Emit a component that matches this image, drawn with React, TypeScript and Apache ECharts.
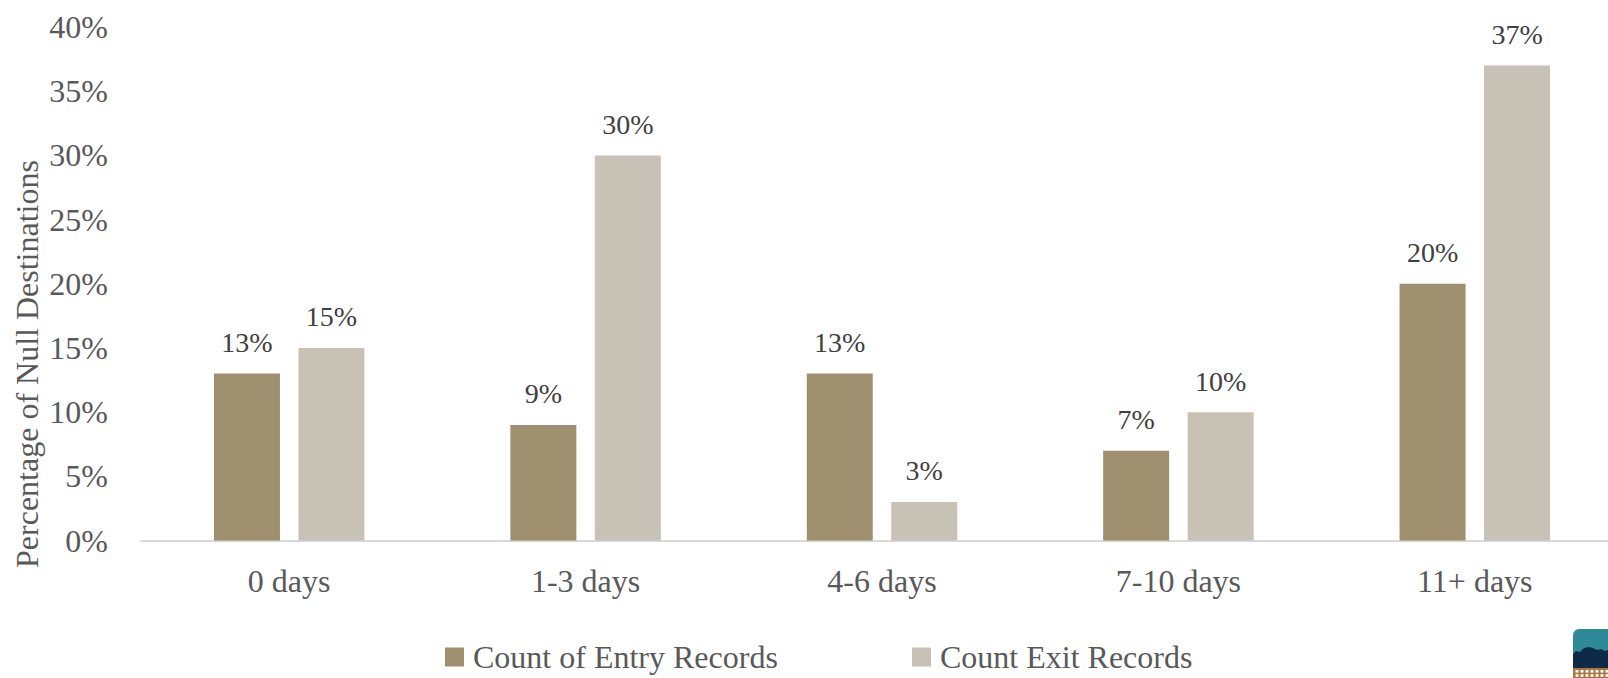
import React, { useEffect, useRef } from "react";
import * as echarts from "echarts";

const categories = ["0 days", "1-3 days", "4-6 days", "7-10 days", "11+ days"];
const entryRecords = [13, 9, 13, 7, 20];
const exitRecords = [15, 30, 3, 10, 37];
const seriesNames = ["Count of Entry Records", "Count Exit Records"];
const yAxisTitle = "Percentage of Null Destinations";

const FONT = "'Liberation Serif', 'Times New Roman', serif";
const ENTRY_COLOR = "#9E8F6F";
const EXIT_COLOR = "#C8C2B6";

function logoGraphics() {
  const els: any[] = [];
  els.push({
    type: "rect",
    shape: { x: 1573, y: 629, width: 40, height: 32, r: [6, 0, 0, 0] },
    style: { fill: "#2F8A98" },
    silent: true,
  });
  els.push({
    type: "polygon",
    shape: {
      points: [
        [1573, 654], [1576, 651], [1580, 652], [1584, 648], [1589, 647],
        [1593, 648], [1597, 650], [1601, 649], [1605, 651], [1608, 650],
        [1608, 668], [1573, 668],
      ],
    },
    style: { fill: "#0E2A48" },
    silent: true,
  });
  els.push({
    type: "rect",
    shape: { x: 1573, y: 668, width: 40, height: 12 },
    style: { fill: "#A8763F" },
    silent: true,
  });
  for (let r = 0; r < 2; r++) {
    for (let c = 0; c < 7; c++) {
      els.push({
        type: "rect",
        shape: { x: 1575.5 + c * 5, y: 670 + r * 4.2, width: 3, height: 2.6 },
        style: { fill: "#FFFFFF" },
        silent: true,
      });
    }
  }
  return els;
}

export default function App() {
  const ref = useRef<HTMLDivElement>(null);
  useEffect(() => {
    if (!ref.current) return;
    const chart = echarts.init(ref.current, undefined, { renderer: "svg" });
    const labelStyle = {
      show: true,
      position: "top" as const,
      distance: 17,
      formatter: "{c}%",
      fontFamily: FONT,
      fontSize: 28,
      color: "#404040",
    };
    const legendText = {
      fontFamily: FONT,
      fontSize: 32,
      color: "#595959",
      padding: [0, 0, 0, 4],
    };
    chart.setOption({
      animation: false,
      backgroundColor: "#FFFFFF",
      grid: {
        left: 141,
        top: 27,
        width: 1482,
        height: 513.5,
        containLabel: false,
        outerBoundsMode: "none",
      },
      legend: [
        {
          data: [seriesNames[0]],
          left: 445,
          top: 641,
          padding: 0,
          icon: "rect",
          itemWidth: 19,
          itemHeight: 19,
          itemGap: 13,
          textStyle: legendText,
        },
        {
          data: [seriesNames[1]],
          left: 912,
          top: 641,
          padding: 0,
          icon: "rect",
          itemWidth: 19,
          itemHeight: 19,
          itemGap: 13,
          textStyle: legendText,
        },
      ],
      xAxis: {
        type: "category",
        data: categories,
        axisLine: { show: true, lineStyle: { color: "#D9D9D9", width: 2 } },
        axisTick: { show: false },
        axisLabel: { fontFamily: FONT, fontSize: 32, color: "#595959", margin: 24 },
        splitLine: { show: false },
      },
      yAxis: {
        type: "value",
        min: 0,
        max: 40,
        interval: 5,
        axisLine: { show: false },
        axisTick: { show: false },
        splitLine: { show: false },
        axisLabel: {
          formatter: "{value}%",
          fontFamily: FONT,
          fontSize: 32,
          color: "#595959",
          margin: 33,
        },
      },
      series: [
        {
          name: seriesNames[0],
          type: "bar",
          data: entryRecords,
          barWidth: 66,
          barGap: "28%",
          itemStyle: { color: ENTRY_COLOR },
          label: labelStyle,
        },
        {
          name: seriesNames[1],
          type: "bar",
          data: exitRecords,
          barWidth: 66,
          barGap: "28%",
          itemStyle: { color: EXIT_COLOR },
          label: labelStyle,
        },
      ],
      graphic: [
        {
          type: "text",
          x: 27,
          y: 364,
          rotation: Math.PI / 2,
          style: {
            text: yAxisTitle,
            font: `32px ${FONT}`,
            fill: "#595959",
            align: "center",
            verticalAlign: "middle",
          },
          silent: true,
        },
        ...logoGraphics(),
      ],
    });
    return () => chart.dispose();
  }, []);
  return (
    <div
      ref={ref}
      style={{ position: "fixed", left: 0, top: 0, width: 1608, height: 678, background: "#fff" }}
    />
  );
}
